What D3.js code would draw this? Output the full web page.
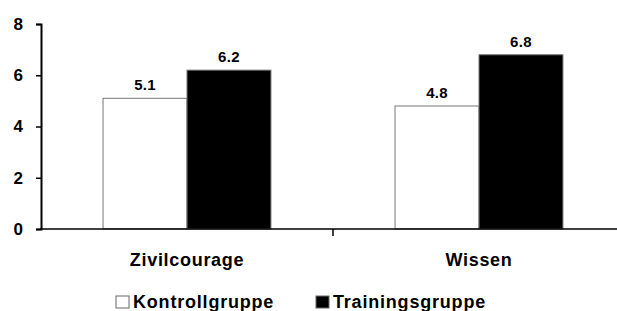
<!DOCTYPE html>
<html><head><meta charset="utf-8">
<script src="https://cdn.jsdelivr.net/npm/d3@7"></script>
<style>body{margin:0;background:#fff}svg{display:block}text{font-family:"Liberation Sans",Arial,sans-serif;font-weight:bold;fill:#000}</style>
</head><body>
<script>
const categories = ["Zivilcourage", "Wissen"];
const groups = ["Kontrollgruppe", "Trainingsgruppe"];
const kontroll = [5.1, 4.8];
const training = [6.2, 6.8];
const yTicks = [0, 2, 4, 6, 8];

const W = 617, H = 311;
const svg = d3.select("body").append("svg").attr("width", W).attr("height", H);
const x0 = d3.scaleBand().domain(categories).range([41, 625]).paddingInner(0.425).paddingOuter(0.2125);
const x1 = d3.scaleBand().domain(groups).range([0, x0.bandwidth()]);
const y = d3.scaleLinear().domain([0, 8]).range([229, 24]);
const fills = {Kontrollgruppe: "#fff", Trainingsgruppe: "#000"};

const data = categories.map((c, i) => ({c, vals: [{g: groups[0], v: kontroll[i]}, {g: groups[1], v: training[i]}]}));

const g = svg.selectAll("g.cat").data(data).join("g").attr("transform", d => `translate(${x0(d.c)},0)`);
g.selectAll("rect").data(d => d.vals).join("rect")
  .attr("x", d => x1(d.g)).attr("width", x1.bandwidth())
  .attr("y", d => y(d.v)).attr("height", d => y(0) - y(d.v))
  .attr("fill", d => fills[d.g]).attr("stroke", "#777").attr("stroke-width", 1);
g.selectAll("text.val").data(d => d.vals).join("text").attr("class", "val")
  .attr("x", d => x1(d.g) + x1.bandwidth() / 2).attr("y", d => y(d.v) - 8)
  .attr("text-anchor", "middle").style("font-size", "15px").style("letter-spacing", "0.3px").text(d => d.v.toFixed(1));

// y axis
const ya = svg.append("g").attr("transform", "translate(41,0)")
  .call(d3.axisLeft(y).tickValues(yTicks).tickSize(5).tickPadding(13).tickFormat(d3.format("d")));
ya.select(".domain").attr("stroke", "#000").attr("stroke-width", 2);
ya.selectAll(".tick line").attr("stroke", "#000").attr("stroke-width", 1.5);
ya.selectAll(".tick text").style("font-size", "17px").style("font-family", "Liberation Sans, Arial, sans-serif").style("font-weight", "bold");

// x axis
svg.append("line").attr("x1", 40).attr("x2", W).attr("y1", y(0)).attr("y2", y(0)).attr("stroke", "#000").attr("stroke-width", 1.5);
const mid = x0(categories[1]) - x0.step() * x0.paddingInner() / 2;
svg.append("line").attr("x1", mid).attr("x2", mid).attr("y1", y(0)).attr("y2", y(0) + 7).attr("stroke", "#000").attr("stroke-width", 1.5);
svg.selectAll("text.cat").data(categories).join("text").attr("class", "cat")
  .attr("x", d => x0(d) + x0.bandwidth() / 2).attr("y", 266)
  .attr("text-anchor", "middle").style("font-size", "18px").style("letter-spacing", "0.7px").text(d => d);

// legend
const leg = svg.selectAll("g.leg").data(groups).join("g").attr("class", "leg")
  .attr("transform", (d, i) => `translate(${[116, 316][i]},0)`);
leg.append("rect").attr("x", 0).attr("y", 296).attr("width", 13).attr("height", 12)
  .attr("fill", d => fills[d]).attr("stroke", "#666").attr("stroke-width", 1);
leg.append("text").attr("x", 17).attr("y", 308).style("font-size", "18px").style("letter-spacing", "0.8px").text(d => d);
</script>
</body></html>
